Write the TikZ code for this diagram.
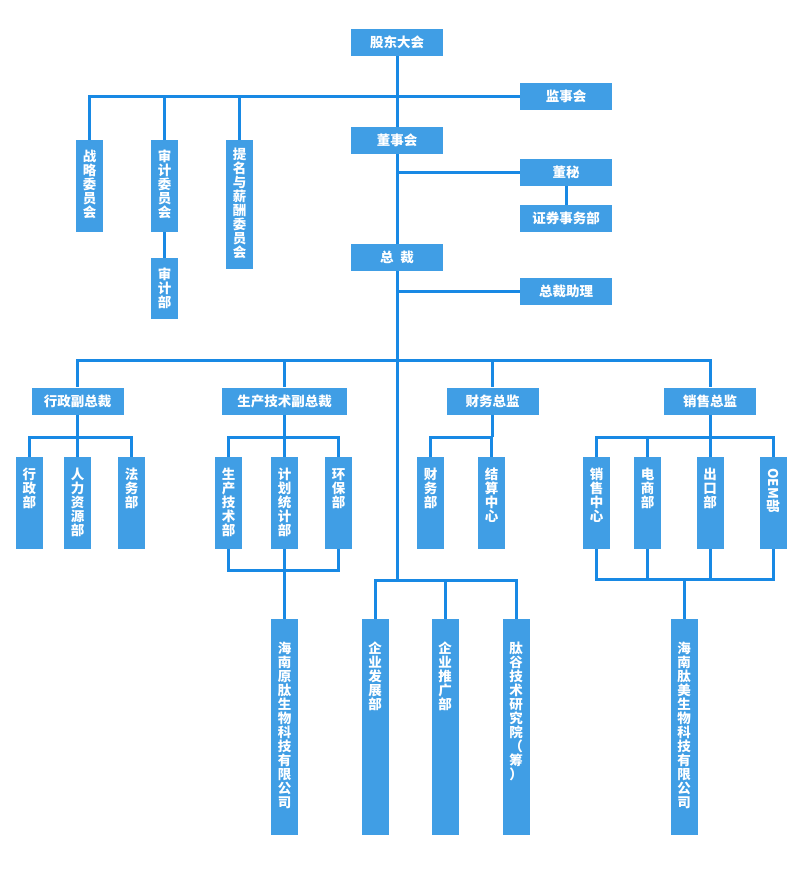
\documentclass[tikz,border=0pt]{standalone}
\usepackage{fontspec}
\newfontfamily\cjk{Noto Sans CJK SC}
\usetikzlibrary{positioning}
\definecolor{boxblue}{RGB}{64,158,229}
\definecolor{lineblue}{RGB}{24,137,228}
\newcommand{\vtxt}[2]{\parbox[c][#1pt][t]{27pt}{\centering #2}}

\begin{document}
\begin{tikzpicture}[x=1pt, y=-1pt,
  every node/.style={font=\cjk\bfseries\fontsize{13.5}{14}\selectfont, text=white},
  hbox/.style={fill=boxblue, minimum width=92, minimum height=27, inner sep=0},
  vbox/.style={fill=boxblue, inner xsep=0, inner ysep=#1, anchor=north}]
\useasboundingbox (0,0) rectangle (800,884);
% top
\node[hbox] (gd) at (397,42.5) {股东大会};
\node[hbox] (jsh) at (566,96) {监事会};
\node[hbox] (dsh) at (397,140.5) {董事会};
\node[hbox] (dm) at (566,172.5) {董秘};
\node[hbox] (zq) at (566,218.5) {证券事务部};
\node[hbox] (zc) at (397,257.5) {总\hspace{0.5em}裁};
\node[hbox] (zczl) at (566,291.5) {总裁助理};
% committees
\node[vbox=10] (zl) at (89.5,140) {\vtxt{72}{战\\略\\委\\员\\会}};
\node[vbox=10] (sj) at (164.5,140) {\vtxt{72}{审\\计\\委\\员\\会}};
\node[vbox=10] (sjb) at (164.5,258) {\vtxt{41}{审\\计\\部}};
\node[vbox=8] (tm) at (239.5,140) {\vtxt{113}{提\\名\\与\\薪\\酬\\委\\员\\会}};
% vice presidents
\node[hbox] (xz) at (77.5,401) {行政副总裁};
\node[hbox, minimum width=125] (sc) at (284.5,401) {生产技术副总裁};
\node[hbox] (cw) at (492.5,401) {财务总监};
\node[hbox] (ss) at (710,401) {销售总监};
% departments
\node[vbox=11] (xzb) at (29.5,457) {\vtxt{70}{行\\政\\部}};
\node[vbox=11] (rl) at (77.5,457) {\vtxt{70}{人\\力\\资\\源\\部}};
\node[vbox=11] (fw) at (131.5,457) {\vtxt{70}{法\\务\\部}};
\node[vbox=11] (scjs) at (228.5,457) {\vtxt{70}{生\\产\\技\\术\\部}};
\node[vbox=11] (jh) at (284.5,457) {\vtxt{70}{计\\划\\统\\计\\部}};
\node[vbox=11] (hb) at (338.5,457) {\vtxt{70}{环\\保\\部}};
\node[vbox=11] (cwb) at (430.5,457) {\vtxt{70}{财\\务\\部}};
\node[vbox=11] (js) at (491.5,457) {\vtxt{70}{结\\算\\中\\心}};
\node[vbox=11] (xszx) at (596.5,457) {\vtxt{70}{销\\售\\中\\心}};
\node[vbox=11] (ds) at (647.5,457) {\vtxt{70}{电\\商\\部}};
\node[vbox=11] (ck) at (710,457) {\vtxt{70}{出\\口\\部}};
\node[vbox=11] (oem) at (773.5,457) {\vtxt{70}{\rotatebox{-90}{OEM部}}};
% bottom row
\node[vbox=23] (hnyt) at (284.5,619) {\vtxt{170}{海\\南\\原\\肽\\生\\物\\科\\技\\有\\限\\公\\司}};
\node[vbox=23] (qyfz) at (375,619) {\vtxt{170}{企\\业\\发\\展\\部}};
\node[vbox=23] (qytg) at (445,619) {\vtxt{170}{企\\业\\推\\广\\部}};
\node[vbox=23] (tg) at (516,619) {\vtxt{170}{肽\\谷\\技\\术\\研\\究\\院\\（\\筹\\）}};
\node[vbox=23] (hnmt) at (684,619) {\vtxt{170}{海\\南\\肽\\美\\生\\物\\科\\技\\有\\限\\公\\司}};
% connectors
\begin{scope}[lineblue, line width=3]
\coordinate (vbus) at (397,360);
\coordinate (tbus) at (397,580);
\draw (gd) -- (dsh) -- (zc);
\draw (zc) -- (tbus);
\draw (jsh) -- (zl |- jsh) -- (zl);
\foreach \c in {sj,tm}
       \draw (\c |- jsh) -- (\c);
\draw (sj) -- (sjb);
\draw (dm) -- (dm -| dsh);
\draw (dm) -- (zq);
\draw (zczl) -- (zczl -| zc);
\foreach \v in {xz,sc,cw,ss}
       \draw (vbus) -| (\v);
\coordinate (xzbus) at (77.5,437);
\draw (xz) -- (xzbus);
\foreach \d in {xzb,rl,fw}
       \draw (xzbus) -| (\d);
\coordinate (scbus) at (284.5,437);
\coordinate (scbot) at (284.5,570);
\draw (sc) -- (scbus);
\foreach \d in {scjs,jh,hb}
       {\draw (scbus) -| (\d); \draw (\d) |- (scbot);}
\draw (scbot) -- (hnyt);
\coordinate (cwbus) at (492.5,437);
\draw (cw) -- (cwbus);
\foreach \d in {cwb,js}
       \draw (cwbus) -| (\d);
\coordinate (ssbus) at (710,437);
\coordinate (ssbot) at (684,579);
\draw (ss) -- (ssbus);
\foreach \d in {xszx,ds,ck,oem}
       {\draw (ssbus) -| (\d); \draw (\d) |- (ssbot);}
\draw (ssbot) -- (hnmt);
\foreach \d in {qyfz,qytg,tg}
       \draw (tbus) -| (\d);
\end{scope}
\end{tikzpicture}
\end{document}
